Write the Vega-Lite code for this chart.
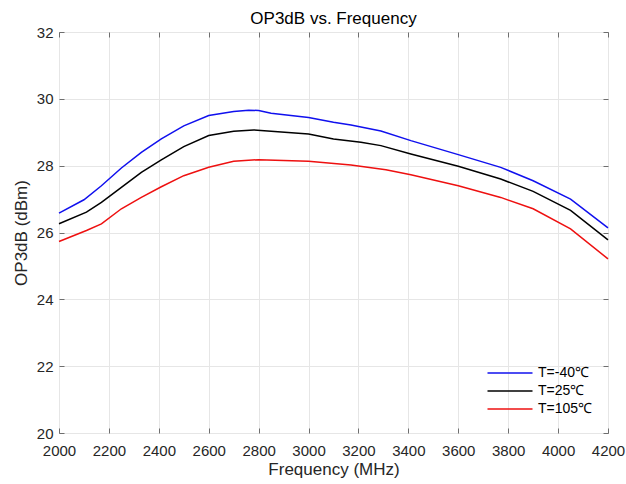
{
  "$schema": "https://vega.github.io/schema/vega-lite/v6.json",
  "width": 549,
  "height": 401,
  "autosize": {"type": "none"},
  "padding": {"left": 59, "top": 32, "right": 18, "bottom": 51},
  "background": "white",
  "title": {"text": "OP3dB vs. Frequency", "font": "Liberation Sans", "fontSize": 17, "fontWeight": "normal", "color": "#000000", "offset": -3},
  "config": {
    "font": "Liberation Sans",
    "view": {"stroke": "#6e6e6e", "strokeWidth": 1},
    "axis": {"labelFont": "Liberation Sans", "titleFont": "Liberation Sans", "labelFontSize": 15, "titleFontSize": 17, "titleFontWeight": "normal", "labelColor": "#262626", "titleColor": "#262626", "domain": false, "tickColor": "#6e6e6e", "gridColor": "#e6e6e6", "gridWidth": 1, "format": "d", "labelFlush": false, "labelOverlap": false, "labelBound": false}
  },
  "data": {"values": [
    {"f": 2000, "v": 26.58, "s": "T=-40℃"},
    {"f": 2100, "v": 26.98, "s": "T=-40℃"},
    {"f": 2170, "v": 27.40, "s": "T=-40℃"},
    {"f": 2250, "v": 27.93, "s": "T=-40℃"},
    {"f": 2330, "v": 28.40, "s": "T=-40℃"},
    {"f": 2410, "v": 28.80, "s": "T=-40℃"},
    {"f": 2500, "v": 29.19, "s": "T=-40℃"},
    {"f": 2600, "v": 29.50, "s": "T=-40℃"},
    {"f": 2700, "v": 29.62, "s": "T=-40℃"},
    {"f": 2760, "v": 29.66, "s": "T=-40℃"},
    {"f": 2800, "v": 29.65, "s": "T=-40℃"},
    {"f": 2850, "v": 29.57, "s": "T=-40℃"},
    {"f": 3000, "v": 29.44, "s": "T=-40℃"},
    {"f": 3100, "v": 29.30, "s": "T=-40℃"},
    {"f": 3170, "v": 29.22, "s": "T=-40℃"},
    {"f": 3290, "v": 29.04, "s": "T=-40℃"},
    {"f": 3410, "v": 28.75, "s": "T=-40℃"},
    {"f": 3600, "v": 28.33, "s": "T=-40℃"},
    {"f": 3770, "v": 27.95, "s": "T=-40℃"},
    {"f": 3900, "v": 27.55, "s": "T=-40℃"},
    {"f": 4050, "v": 27.00, "s": "T=-40℃"},
    {"f": 4200, "v": 26.14, "s": "T=-40℃"},
    {"f": 2000, "v": 26.26, "s": "T=25℃"},
    {"f": 2110, "v": 26.61, "s": "T=25℃"},
    {"f": 2170, "v": 26.90, "s": "T=25℃"},
    {"f": 2250, "v": 27.35, "s": "T=25℃"},
    {"f": 2330, "v": 27.80, "s": "T=25℃"},
    {"f": 2410, "v": 28.17, "s": "T=25℃"},
    {"f": 2500, "v": 28.57, "s": "T=25℃"},
    {"f": 2600, "v": 28.90, "s": "T=25℃"},
    {"f": 2700, "v": 29.03, "s": "T=25℃"},
    {"f": 2780, "v": 29.07, "s": "T=25℃"},
    {"f": 2850, "v": 29.03, "s": "T=25℃"},
    {"f": 3000, "v": 28.95, "s": "T=25℃"},
    {"f": 3100, "v": 28.80, "s": "T=25℃"},
    {"f": 3210, "v": 28.70, "s": "T=25℃"},
    {"f": 3290, "v": 28.60, "s": "T=25℃"},
    {"f": 3410, "v": 28.35, "s": "T=25℃"},
    {"f": 3600, "v": 27.98, "s": "T=25℃"},
    {"f": 3770, "v": 27.60, "s": "T=25℃"},
    {"f": 3900, "v": 27.23, "s": "T=25℃"},
    {"f": 4050, "v": 26.66, "s": "T=25℃"},
    {"f": 4200, "v": 25.78, "s": "T=25℃"},
    {"f": 2000, "v": 25.73, "s": "T=105℃"},
    {"f": 2110, "v": 26.06, "s": "T=105℃"},
    {"f": 2170, "v": 26.26, "s": "T=105℃"},
    {"f": 2250, "v": 26.71, "s": "T=105℃"},
    {"f": 2330, "v": 27.05, "s": "T=105℃"},
    {"f": 2410, "v": 27.37, "s": "T=105℃"},
    {"f": 2500, "v": 27.70, "s": "T=105℃"},
    {"f": 2600, "v": 27.95, "s": "T=105℃"},
    {"f": 2700, "v": 28.13, "s": "T=105℃"},
    {"f": 2800, "v": 28.18, "s": "T=105℃"},
    {"f": 3000, "v": 28.13, "s": "T=105℃"},
    {"f": 3170, "v": 28.02, "s": "T=105℃"},
    {"f": 3310, "v": 27.88, "s": "T=105℃"},
    {"f": 3410, "v": 27.73, "s": "T=105℃"},
    {"f": 3600, "v": 27.40, "s": "T=105℃"},
    {"f": 3770, "v": 27.05, "s": "T=105℃"},
    {"f": 3900, "v": 26.71, "s": "T=105℃"},
    {"f": 4050, "v": 26.11, "s": "T=105℃"},
    {"f": 4200, "v": 25.21, "s": "T=105℃"}
  ]},
  "layer": [
    {
      "mark": {"type": "line", "strokeWidth": 1.5},
      "encoding": {
        "x": {"field": "f", "type": "quantitative", "scale": {"domain": [2000, 4200], "nice": false, "zero": false},
              "axis": {"orient": "bottom", "title": "Frequency (MHz)", "values": [2000,2200,2400,2600,2800,3000,3200,3400,3600,3800,4000,4200], "ticks": false, "labelPadding": 10, "titlePadding": 3, "grid": true}},
        "y": {"field": "v", "type": "quantitative", "scale": {"domain": [20, 32], "nice": false, "zero": false},
              "axis": {"orient": "left", "title": "OP3dB (dBm)", "values": [20,22,24,26,28,30,32], "ticks": false, "labelPadding": 6, "titlePadding": 6, "grid": true}},
        "color": {"field": "s", "type": "nominal", "sort": ["T=-40℃", "T=25℃", "T=105℃"],
                  "scale": {"domain": ["T=-40℃", "T=25℃", "T=105℃"], "range": ["#1010ee", "#000000", "#ee1010"]},
                  "legend": {"title": null, "orient": "none", "legendX": 441, "legendY": 331, "symbolType": "M-2.5,0H2.5", "symbolSize": 324, "symbolStrokeWidth": 1.5, "labelFontSize": 14, "labelFont": "Liberation Sans", "labelColor": "#000000", "rowPadding": 1, "labelOffset": 18}}
      }
    },
    {
      "mark": {"type": "line", "strokeWidth": 0, "opacity": 0},
      "encoding": {
        "x": {"field": "f", "type": "quantitative", "scale": {"domain": [2000, 4200], "nice": false, "zero": false},
              "axis": {"orient": "top", "offset": -401, "title": null, "labels": false, "grid": false, "values": [2000,2200,2400,2600,2800,3000,3200,3400,3600,3800,4000,4200], "tickSize": 5}},
        "y": {"field": "v", "type": "quantitative", "scale": {"domain": [20, 32], "nice": false, "zero": false},
              "axis": {"orient": "right", "offset": -549, "title": null, "labels": false, "grid": false, "values": [20,22,24,26,28,30,32], "tickSize": 5}}
      }
    },
    {
      "mark": {"type": "line", "strokeWidth": 0, "opacity": 0},
      "encoding": {
        "x": {"field": "f", "type": "quantitative", "scale": {"domain": [2000, 4200], "nice": false, "zero": false},
              "axis": {"orient": "bottom", "offset": -401, "title": null, "labels": false, "grid": false, "values": [2000,2200,2400,2600,2800,3000,3200,3400,3600,3800,4000,4200], "tickSize": 5}},
        "y": {"field": "v", "type": "quantitative", "scale": {"domain": [20, 32], "nice": false, "zero": false},
              "axis": {"orient": "left", "offset": -549, "title": null, "labels": false, "grid": false, "values": [20,22,24,26,28,30,32], "tickSize": 5}}
      }
    }
  ],
  "resolve": {"axis": {"x": "independent", "y": "independent"}}
}
